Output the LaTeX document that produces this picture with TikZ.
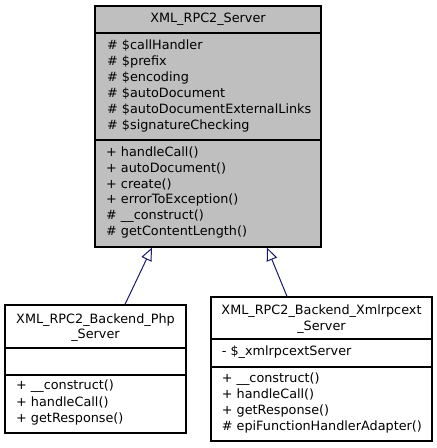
\documentclass[tikz,border=0pt]{standalone}
\usepackage{fontspec}
\setmainfont{DejaVu Sans}
\usetikzlibrary{arrows.meta}
\definecolor{boxgray}{HTML}{BFBFBF}
\definecolor{inhblue}{HTML}{191970}
\tikzset{
    box/.style={draw=black, line width=1.2pt, inner sep=0pt},
    txt/.style={anchor=west, inner sep=0pt, text height=9.5pt, text depth=3pt, font=\fontsize{12.8}{15}\selectfont},
    ttl/.style={inner sep=0pt, align=center, font=\fontsize{12.8}{15.6}\selectfont},
    inh/.style={draw=inhblue, line width=1pt, -{Triangle[open, length=13pt, width=11pt]}, fill=white},
}
\begin{document}
\begin{tikzpicture}[x=1pt, y=-1pt]
    \useasboundingbox (0,0) rectangle (437,448);
    %Server
        \node[box, fill=boxgray, minimum width=226pt, minimum height=241pt] (server) at (208,126.5) {};
        \draw[line width=1.2pt] (server.west |- 0,33) -- (server.east |- 0,33);
        \draw[line width=1.2pt] (server.west |- 0,140) -- (server.east |- 0,140);
        \node[ttl] (serverName) at (208,19.5) {XML\_RPC2\_Server};
        \node[txt] (sa1) at (107,46.7) {\# \$callHandler};
        \node[txt] (sa2) at (107,62.5) {\# \$prefix};
        \node[txt] (sa3) at (107,78.5) {\# \$encoding};
        \node[txt] (sa4) at (107,94.5) {\# \$autoDocument};
        \node[txt] (sa5) at (107,110.5) {\# \$autoDocumentExternalLinks};
        \node[txt] (sa6) at (107,126.5) {\# \$signatureChecking};
        \node[txt] (sm1) at (106,153.3) {+ handleCall()};
        \node[txt] (sm2) at (106,169) {+ autoDocument()};
        \node[txt] (sm3) at (106,184.8) {+ create()};
        \node[txt] (sm4) at (106,200.6) {+ errorToException()};
        \node[txt] (sm5) at (106,216.4) {\# \_\_construct()};
        \node[txt] (sm6) at (106,232.2) {\# getContentLength()};
    %Php
        \node[box, fill=white, minimum width=181pt, minimum height=128pt] (php) at (95.5,369) {};
        \draw[line width=1.2pt] (php.west |- 0,348) -- (php.east |- 0,348);
        \draw[line width=1.2pt] (php.west |- 0,375) -- (php.east |- 0,375);
        \node[ttl] (phpName) at (95.5,327.5) {XML\_RPC2\_Backend\_Php\\\_Server};
        \node[txt] (pm1) at (16,386.7) {+ \_\_construct()};
        \node[txt] (pm2) at (16,403) {+ handleCall()};
        \node[txt] (pm3) at (16,419.3) {+ getResponse()};
    %Xmlrpcext
        \node[box, fill=white, minimum width=221pt, minimum height=144pt] (xml) at (321.5,369) {};
        \draw[line width=1.2pt] (xml.west |- 0,339) -- (xml.east |- 0,339);
        \draw[line width=1.2pt] (xml.west |- 0,367) -- (xml.east |- 0,367);
        \node[ttl] (xmlName) at (321.5,319) {XML\_RPC2\_Backend\_Xmlrpcext\\\_Server};
        \node[txt] (xa1) at (221.7,352.7) {- \$\_xmlrpcextServer};
        \node[txt] (xm1) at (221.7,379.3) {+ \_\_construct()};
        \node[txt] (xm2) at (221.7,395.3) {+ handleCall()};
        \node[txt] (xm3) at (221.7,411.3) {+ getResponse()};
        \node[txt] (xm4) at (221.7,427.3) {\# epiFunctionHandlerAdapter()};
    %Arv
        \draw[inh] ([xshift=29.5pt]php.north) -- ([xshift=-56pt]server.south);
        \draw[inh] ([xshift=-34.5pt]xml.north) -- ([xshift=59pt]server.south);
\end{tikzpicture}
\end{document}
